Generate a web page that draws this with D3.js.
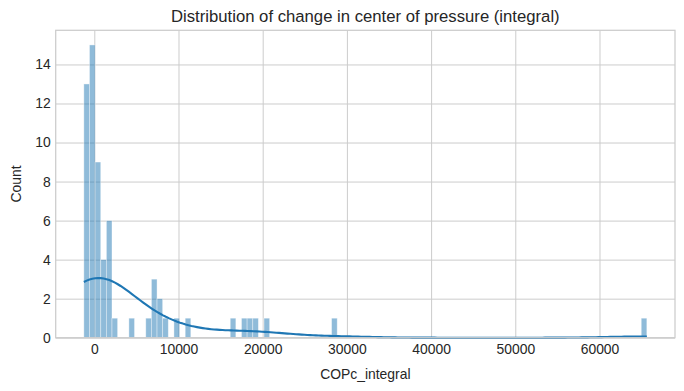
<!DOCTYPE html>
<html>
<head>
<meta charset="utf-8">
<script src="https://cdn.jsdelivr.net/npm/d3@7"></script>
<style>
  html, body { margin: 0; padding: 0; background: #ffffff; }
  svg { display: block; font-family: Arial, "Liberation Sans", sans-serif; }
</style>
</head>
<body>
<svg id="chart" width="684" height="391"></svg>
<script>
// ---- data ----
const title = "Distribution of change in center of pressure (integral)";
const xLabel = "COPc_integral";
const yLabel = "Count";
const dataMin = -1241;      // left edge of first bin
const dataMax = 65624;      // right edge of last bin
const nBins = 100;
const binIndex = [0, 1, 2, 3, 4, 5, 8, 11, 12, 13, 14, 16, 18, 26, 28, 29, 30, 32, 44, 99];
const counts   = [13, 15, 9, 4, 6, 1, 1, 1, 3, 2, 1, 1, 1, 1, 1, 1, 1, 1, 1, 1];
const xTicks = [0, 10000, 20000, 30000, 40000, 50000, 60000];
const yTicks = [0, 2, 4, 6, 8, 10, 12, 14];

// ---- layout ----
const margin = { left: 55.7, right: 684 - 675, top: 30.3, bottom: 391 - 337.7 };
const W = 684, H = 391;
const svg = d3.select("#chart");

const binW = (dataMax - dataMin) / nBins;
const bins = binIndex.map((b, i) => ({ x0: dataMin + b * binW, x1: dataMin + (b + 1) * binW, n: counts[i] }));

const span = dataMax - dataMin;
const x = d3.scaleLinear()
  .domain([dataMin - 0.05 * span, dataMax + 0.05 * span])
  .range([margin.left, W - margin.right]);
const yMax = d3.max(counts) * 1.05;
const y = d3.scaleLinear().domain([0, yMax]).range([H - margin.bottom, margin.top]);

// ---- grid ----
const gx = svg.append("g")
  .attr("transform", `translate(0,${H - margin.bottom})`)
  .call(d3.axisBottom(x).tickValues(xTicks).tickSize(-(H - margin.top - margin.bottom)).tickFormat(d3.format("d")).tickPadding(6));
gx.select(".domain").remove();
gx.selectAll(".tick line").attr("stroke", "#cccccc").attr("stroke-width", 1);
gx.selectAll(".tick text").attr("fill", "#262626").style("font-size", "13.9px").attr("dy", "0.75em");

const gy = svg.append("g")
  .attr("transform", `translate(${margin.left},0)`)
  .call(d3.axisLeft(y).tickValues(yTicks).tickSize(-(W - margin.left - margin.right)).tickFormat(d3.format("d")).tickPadding(5));
gy.select(".domain").remove();
gy.selectAll(".tick line").attr("stroke", "#cccccc").attr("stroke-width", 1);
gy.selectAll(".tick text").attr("fill", "#262626").style("font-size", "13.9px");

// ---- bars ----
svg.append("g").selectAll("rect").data(bins).join("rect")
  .attr("x", d => x(d.x0))
  .attr("width", d => x(d.x1) - x(d.x0))
  .attr("y", d => y(d.n))
  .attr("height", d => y(0) - y(d.n))
  .attr("fill", "rgba(31,119,180,0.5)")
  .attr("stroke", "rgba(255,255,255,0.5)")
  .attr("stroke-width", 0.75);

// ---- KDE (gaussian, Scott bandwidth, on bin centers weighted by counts) ----
const pts = [];
bins.forEach(b => { for (let k = 0; k < b.n; k++) pts.push((b.x0 + b.x1) / 2); });
const n = pts.length;
const mean = d3.mean(pts);
const sd = Math.sqrt(d3.sum(pts, v => (v - mean) ** 2) / (n - 1));
const h = sd * Math.pow(n, -1 / 5);
const grid = d3.range(200).map(i => dataMin + (dataMax - dataMin) * i / 199);
const kde = grid.map(g => {
  const dens = d3.sum(pts, v => Math.exp(-0.5 * ((g - v) / h) ** 2)) / (n * h * Math.sqrt(2 * Math.PI));
  return [g, dens * n * binW];
});
svg.append("path")
  .datum(kde)
  .attr("fill", "none")
  .attr("stroke", "#1f77b4")
  .attr("stroke-width", 2.1)
  .attr("d", d3.line().x(d => x(d[0])).y(d => y(d[1])));

// ---- frame ----
svg.append("rect")
  .attr("x", margin.left).attr("y", margin.top)
  .attr("width", W - margin.left - margin.right)
  .attr("height", H - margin.top - margin.bottom)
  .attr("fill", "none").attr("stroke", "#cccccc").attr("stroke-width", 1.25);

// ---- labels ----
svg.append("text")
  .attr("x", (margin.left + W - margin.right) / 2).attr("y", 22)
  .attr("text-anchor", "middle").attr("fill", "#262626").style("font-size", "16.7px")
  .text(title);
svg.append("text")
  .attr("x", (margin.left + W - margin.right) / 2).attr("y", 379)
  .attr("text-anchor", "middle").attr("fill", "#262626").style("font-size", "13.9px")
  .text(xLabel);
svg.append("text")
  .attr("transform", `translate(21,${(margin.top + H - margin.bottom) / 2}) rotate(-90)`)
  .attr("text-anchor", "middle").attr("fill", "#262626").style("font-size", "13.9px")
  .text(yLabel);
</script>
</body>
</html>
